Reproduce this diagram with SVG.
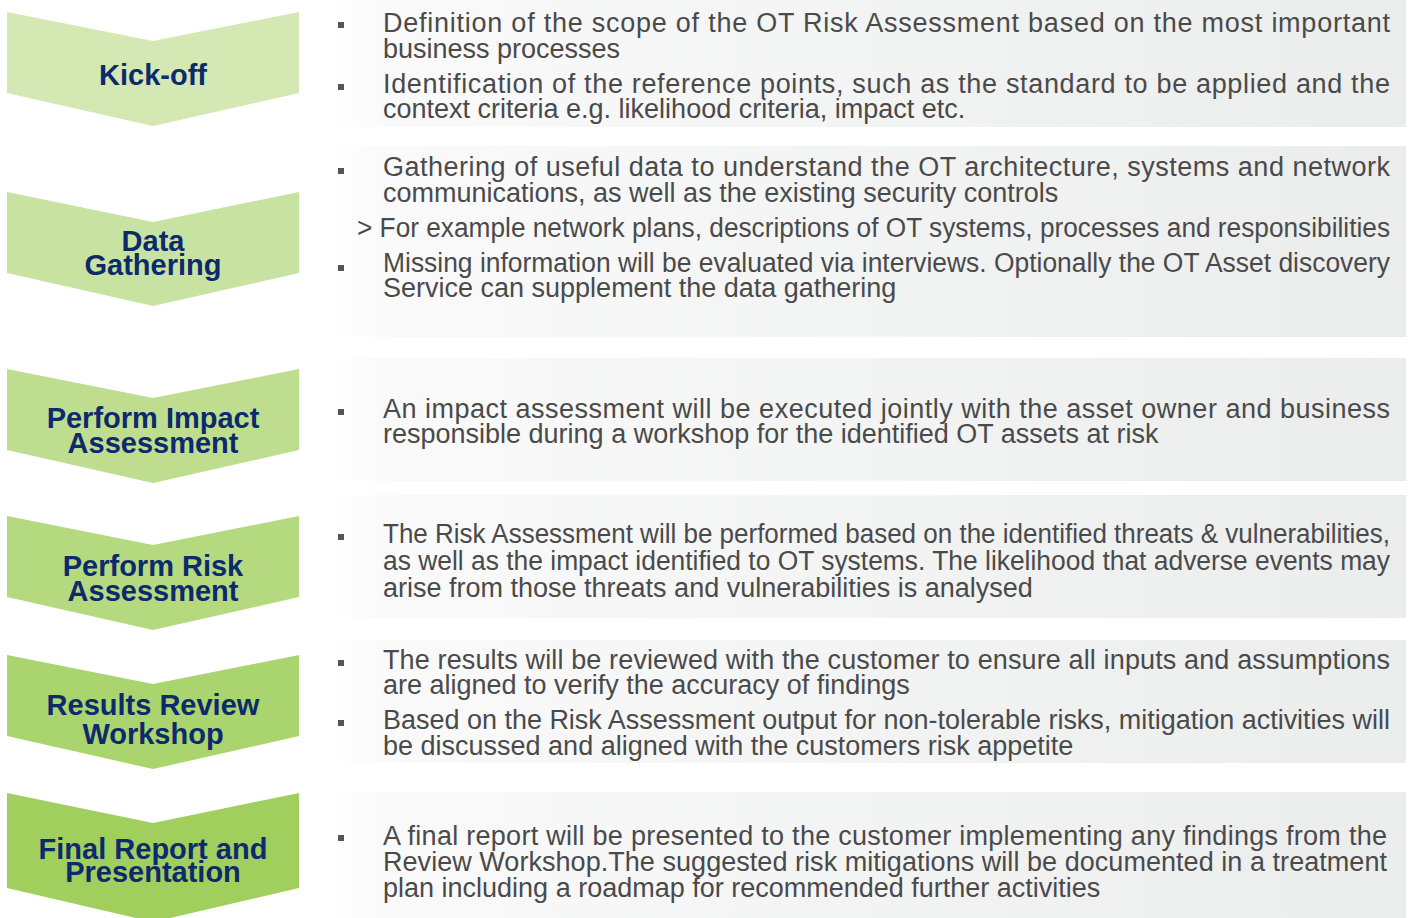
<svg xmlns="http://www.w3.org/2000/svg" width="1413" height="918" viewBox="0 0 1413 918">
<defs>
<linearGradient id="pg" gradientUnits="userSpaceOnUse" x1="330" y1="0" x2="1406" y2="0">
<stop offset="0" stop-color="#ffffff"/>
<stop offset="0.05" stop-color="#fafafa"/>
<stop offset="1" stop-color="#ebecec"/>
</linearGradient>
<style>
.panel{fill:url(#pg);}
.t{font-family:"Liberation Sans",Arial,sans-serif;font-size:27px;fill:#4a4a4a;}
.lbl{font-family:"Liberation Sans",Arial,sans-serif;font-size:29px;font-weight:bold;fill:#0c2a6c;text-anchor:middle;}
.b{fill:#555555;}
</style>
</defs>
<rect width="1413" height="918" fill="#ffffff"/>

<g id="panels">
<rect class="panel" x="330" y="0" width="1076" height="127"/>
<rect class="panel" x="330" y="146" width="1076" height="191"/>
<rect class="panel" x="330" y="358" width="1076" height="123"/>
<rect class="panel" x="330" y="495" width="1076" height="123"/>
<rect class="panel" x="330" y="640" width="1076" height="123"/>
<rect class="panel" x="330" y="792" width="1076" height="126"/>
</g>

<g id="kickoff">
<path d="M7,12 L153,41 L299,12 L299,93 L153,126 L7,93 Z" fill="#d3e8b3"/>
<text class="lbl" x="153" y="85">Kick-off</text>
</g>
<g id="kickoff-text">
<rect class="b" x="338" y="22" width="6" height="6"/>
<text class="t" x="383" y="32" textLength="1007" lengthAdjust="spacing">Definition of the scope of the OT Risk Assessment based on the most important</text>
<text class="t" x="383" y="58">business processes</text>
<rect class="b" x="338" y="84" width="6" height="6"/>
<text class="t" x="383" y="93" textLength="1007" lengthAdjust="spacing">Identification of the reference points, such as the standard to be applied and the</text>
<text class="t" x="383" y="118">context criteria e.g. likelihood criteria, impact etc.</text>
</g>

<g id="data-gathering">
<path d="M7,192 L153,222 L299,192 L299,273 L153,306 L7,273 Z" fill="#c8e3a1"/>
<text class="lbl" x="153" y="251">Data</text>
<text class="lbl" x="153" y="275">Gathering</text>
</g>
<g id="data-gathering-text">
<rect class="b" x="338" y="168" width="6" height="6"/>
<text class="t" x="383" y="176" textLength="1007" lengthAdjust="spacing">Gathering of useful data to understand the OT architecture, systems and network</text>
<text class="t" x="383" y="202">communications, as well as the existing security controls</text>
<text class="t" x="357" y="237" textLength="1033" lengthAdjust="spacingAndGlyphs">&gt; For example network plans, descriptions of OT systems, processes and responsibilities</text>
<rect class="b" x="338" y="265" width="6" height="6"/>
<text class="t" x="383" y="272" textLength="1007" lengthAdjust="spacingAndGlyphs">Missing information will be evaluated via interviews. Optionally the OT Asset discovery</text>
<text class="t" x="383" y="297">Service can supplement the data gathering</text>
</g>

<g id="impact">
<path d="M7,369 L153,398 L299,369 L299,450 L153,483 L7,450 Z" fill="#bedd8f"/>
<text class="lbl" x="153" y="428">Perform Impact</text>
<text class="lbl" x="153" y="453">Assessment</text>
</g>
<g id="impact-text">
<rect class="b" x="338" y="409" width="6" height="6"/>
<text class="t" x="383" y="418" textLength="1007" lengthAdjust="spacing">An impact assessment will be executed jointly with the asset owner and business</text>
<text class="t" x="383" y="443">responsible during a workshop for the identified OT assets at risk</text>
</g>

<g id="risk">
<path d="M7,516 L153,545 L299,516 L299,597 L153,630 L7,597 Z" fill="#b4d97f"/>
<text class="lbl" x="153" y="576">Perform Risk</text>
<text class="lbl" x="153" y="601">Assessment</text>
</g>
<g id="risk-text">
<rect class="b" x="338" y="534" width="6" height="6"/>
<text class="t" x="383" y="543" textLength="1007" lengthAdjust="spacingAndGlyphs">The Risk Assessment will be performed based on the identified threats &amp; vulnerabilities,</text>
<text class="t" x="383" y="570" textLength="1007" lengthAdjust="spacingAndGlyphs">as well as the impact identified to OT systems. The likelihood that adverse events may</text>
<text class="t" x="383" y="597">arise from those threats and vulnerabilities is analysed</text>
</g>

<g id="review">
<path d="M7,655 L153,684 L299,655 L299,736 L153,769 L7,736 Z" fill="#aad46d"/>
<text class="lbl" x="153" y="715">Results Review</text>
<text class="lbl" x="153" y="744">Workshop</text>
</g>
<g id="review-text">
<rect class="b" x="338" y="660" width="6" height="6"/>
<text class="t" x="383" y="669" textLength="1007" lengthAdjust="spacing">The results will be reviewed with the customer to ensure all inputs and assumptions</text>
<text class="t" x="383" y="694">are aligned to verify the accuracy of findings</text>
<rect class="b" x="338" y="720" width="6" height="6"/>
<text class="t" x="383" y="729" textLength="1007" lengthAdjust="spacingAndGlyphs">Based on the Risk Assessment output for non-tolerable risks, mitigation activities will</text>
<text class="t" x="383" y="755">be discussed and aligned with the customers risk appetite</text>
</g>

<g id="final">
<path d="M7,793 L153,823 L299,793 L299,888 L153,922 L7,888 Z" fill="#a1cf5d"/>
<text class="lbl" x="153" y="859">Final Report and</text>
<text class="lbl" x="153" y="882">Presentation</text>
</g>
<g id="final-text">
<rect class="b" x="338" y="835" width="6" height="6"/>
<text class="t" x="383" y="845" textLength="1004" lengthAdjust="spacing">A final report will be presented to the customer implementing any findings from the</text>
<text class="t" x="383" y="871" textLength="1004" lengthAdjust="spacing">Review Workshop.The suggested risk mitigations will be documented in a treatment</text>
<text class="t" x="383" y="897">plan including a roadmap for recommended further activities</text>
</g>
</svg>
